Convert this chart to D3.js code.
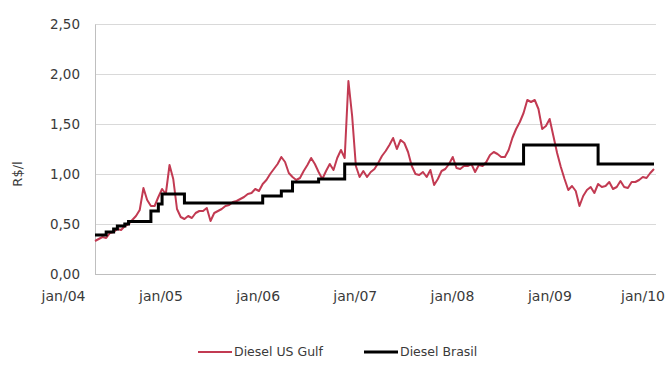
<!DOCTYPE html>
<html>
<head>
<meta charset="utf-8">
<script src="https://cdn.jsdelivr.net/npm/d3@7"></script>
<style>
  body { margin: 0; background: #fff; }
  svg text { font-family: "DejaVu Sans", sans-serif; fill: #3a3a3a; }
</style>
</head>
<body>
<svg id="chart"></svg>
<script>
// series sampled every 2 weeks starting here
const startDate = new Date(2004, 3, 30);
const stepDays = 14;

const gulfValues = [
  0.33, 0.35, 0.37, 0.36, 0.41, 0.42, 0.45, 0.44, 0.48, 0.50,
  0.54, 0.58, 0.64, 0.86, 0.74, 0.68, 0.68, 0.77, 0.85, 0.80,
  1.09, 0.95, 0.65, 0.57, 0.55, 0.58, 0.56, 0.61, 0.63, 0.63,
  0.66, 0.53, 0.61, 0.63, 0.65, 0.68, 0.69, 0.72, 0.73, 0.75,
  0.77, 0.80, 0.81, 0.85, 0.83, 0.90, 0.94, 1.00, 1.05, 1.10,
  1.17, 1.12, 1.01, 0.97, 0.94, 0.96, 1.03, 1.09, 1.16, 1.10,
  1.02, 0.95, 1.03, 1.10, 1.04, 1.16, 1.24, 1.16, 1.93, 1.58,
  1.08, 0.97, 1.03, 0.97, 1.02, 1.05, 1.11, 1.18, 1.23, 1.29,
  1.36, 1.25, 1.34, 1.31, 1.22, 1.08, 1.00, 0.99, 1.02, 0.97,
  1.04, 0.89, 0.95, 1.03, 1.05, 1.10, 1.17, 1.06, 1.05, 1.08,
  1.08, 1.10, 1.02, 1.09, 1.08, 1.12, 1.19, 1.22, 1.20, 1.17,
  1.17, 1.24, 1.36, 1.45, 1.52, 1.61, 1.74, 1.72, 1.74, 1.65,
  1.45, 1.48, 1.55, 1.38, 1.21, 1.07, 0.95, 0.84, 0.88, 0.83,
  0.68, 0.78, 0.84, 0.87, 0.81, 0.90, 0.87, 0.88, 0.92, 0.85,
  0.87, 0.93, 0.87, 0.86, 0.92, 0.92, 0.94, 0.97, 0.96, 1.01,
  1.05
];

// Diesel Brasil: sample index where each price level begins
const brasilStart = [0, 3, 5, 6, 8, 9, 15, 17, 18, 24, 45, 50, 53, 60, 67, 115, 135];
const brasilLevel = [0.39, 0.42, 0.45, 0.48, 0.50, 0.525, 0.63, 0.70, 0.80, 0.71, 0.78, 0.83, 0.92, 0.95, 1.10, 1.29, 1.10];

const yTicks = [0, 0.5, 1, 1.5, 2, 2.5];
const xTickYears = [2004, 2005, 2006, 2007, 2008, 2009, 2010];
const xTickLabels = ["jan/04", "jan/05", "jan/06", "jan/07", "jan/08", "jan/09", "jan/10"];
const seriesNames = ["Diesel US Gulf", "Diesel Brasil"];
const seriesColors = ["#c23a52", "#000000"];

const width = 671, height = 365;
const margin = { top: 24, right: 16, bottom: 90, left: 95 };

const dateAt = i => d3.timeDay.offset(startDate, i * stepDays);

const gulf = gulfValues.map((v, i) => ({ date: dateAt(i), value: v }));
const lastIndex = gulfValues.length - 1;
const brasil = brasilStart.map((s, k) => ({ date: dateAt(s), value: brasilLevel[k] }));
brasil.push({ date: dateAt(lastIndex), value: brasilLevel[brasilLevel.length - 1] });

const svg = d3.select("#chart").attr("width", width).attr("height", height);

const x = d3.scaleTime()
  .domain([startDate, dateAt(lastIndex)])
  .range([margin.left, 654]);
const y = d3.scaleLinear()
  .domain([0, 2.5])
  .range([height - margin.bottom - 1, margin.top]);

// gridlines
svg.append("g")
  .selectAll("line")
  .data(yTicks.filter(d => d > 0))
  .join("line")
  .attr("x1", margin.left)
  .attr("x2", 656)
  .attr("y1", d => Math.round(y(d)) + 0.5)
  .attr("y2", d => Math.round(y(d)) + 0.5)
  .attr("stroke", "#d9d9d9");

const fmt = d => d.toFixed(2).replace(".", ",");

const yAxis = svg.append("g")
  .attr("transform", `translate(${margin.left}, 0)`)
  .call(d3.axisLeft(y).tickValues(yTicks).tickFormat(fmt).tickSize(0).tickPadding(15));
yAxis.select(".domain").attr("stroke", "#bfbfbf");
yAxis.selectAll("text").style("font-size", "13.5px").attr("fill", "#3a3a3a");

const xAxis = svg.append("g")
  .attr("transform", `translate(0, ${Math.round(y(0)) + 0.5})`)
  .call(d3.axisBottom(x)
    .tickValues(xTickYears.map(yr => new Date(yr, 0, 1)))
    .tickFormat((d, i) => xTickLabels[i])
    .tickSize(0).tickPadding(17));
xAxis.select(".domain").attr("stroke", "#bfbfbf").attr("d", `M${margin.left},0H656`);
xAxis.selectAll("text").style("font-size", "14px").attr("fill", "#3a3a3a");
// last label sits against the right edge in the original
xAxis.selectAll(".tick text").filter((d, i) => i === xTickLabels.length - 1).attr("dx", "-4");

svg.append("text")
  .attr("transform", `translate(22, ${y(1)}) rotate(-90)`)
  .attr("text-anchor", "middle")
  .style("font-size", "13px")
  .text("R$/l");

const line = d3.line()
  .x(d => x(d.date))
  .y(d => y(d.value));

svg.append("path")
  .datum(gulf)
  .attr("fill", "none")
  .attr("stroke", seriesColors[0])
  .attr("stroke-width", 2)
  .attr("stroke-linejoin", "round")
  .attr("d", line);

svg.append("path")
  .datum(brasil)
  .attr("fill", "none")
  .attr("stroke", seriesColors[1])
  .attr("stroke-width", 3)
  .attr("d", line.curve(d3.curveStepAfter));

// legend
const legendX = [198, 364];
const legend = svg.append("g")
  .selectAll("g")
  .data(seriesNames)
  .join("g")
  .attr("transform", (d, i) => `translate(${legendX[i]}, 352)`);
legend.append("line")
  .attr("x1", 0).attr("x2", 34)
  .attr("stroke", (d, i) => seriesColors[i])
  .attr("stroke-width", (d, i) => i === 0 ? 2 : 3);
legend.append("text")
  .attr("x", 36)
  .attr("dy", "0.35em")
  .style("font-size", "12.5px")
  .text(d => d);
</script>
</body>
</html>
